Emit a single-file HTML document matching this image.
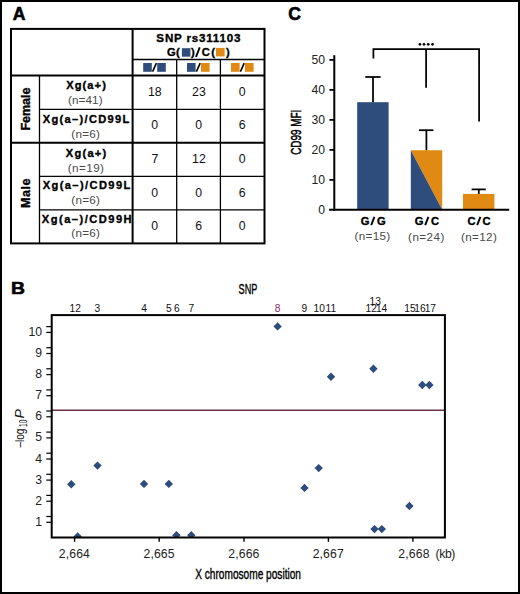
<!DOCTYPE html>
<html><head><meta charset="utf-8">
<style>
html,body{margin:0;padding:0;background:#fff;}
body{width:520px;height:594px;overflow:hidden;font-family:"Liberation Sans",sans-serif;}
svg{display:block;}
text{font-family:"Liberation Sans",sans-serif;}
.b{font-weight:bold;stroke:#000;stroke-width:0.35px;}
.pl{font-weight:bold;stroke:#000;stroke-width:0.6px;}
</style></head><body>
<svg width="520" height="594" viewBox="0 0 520 594">
<rect x="0" y="0" width="520" height="594" fill="#fff"/>
<!-- outer border -->
<rect x="1" y="1" width="518" height="592" fill="none" stroke="#000" stroke-width="2"/>

<!-- panel labels -->
<text x="12.8" y="19.7" class="pl" font-size="17.6">A</text>
<text x="288.2" y="20.2" class="pl" font-size="17.6">C</text>
<text x="11.1" y="293.7" class="pl" font-size="17.4" textLength="14" lengthAdjust="spacingAndGlyphs">B</text>

<!-- ===== TABLE A ===== -->
<g stroke="#000" fill="none">
  <rect x="11" y="28.9" width="253.5" height="214.5" stroke-width="2"/>
  <line x1="132.6" y1="28.9" x2="132.6" y2="243.4" stroke-width="2"/>
  <line x1="132.6" y1="59.5" x2="264.5" y2="59.5" stroke-width="1.3"/>
  <line x1="11" y1="75.6" x2="264.5" y2="75.6" stroke-width="2"/>
  <line x1="11" y1="142.7" x2="264.5" y2="142.7" stroke-width="2"/>
  <line x1="39.5" y1="75.6" x2="39.5" y2="243.4" stroke-width="1.3"/>
  <line x1="176.7" y1="59.5" x2="176.7" y2="243.4" stroke-width="1.3"/>
  <line x1="220.4" y1="59.5" x2="220.4" y2="243.4" stroke-width="1.3"/>
  <line x1="39.5" y1="109.3" x2="264.5" y2="109.3" stroke-width="1.3"/>
  <line x1="39.5" y1="176.3" x2="264.5" y2="176.3" stroke-width="1.3"/>
  <line x1="39.5" y1="209.9" x2="264.5" y2="209.9" stroke-width="1.3"/>
</g>

<!-- header -->
<text x="198.35" y="42" class="b" font-size="11.6" text-anchor="middle" textLength="84" lengthAdjust="spacing">SNP rs311103</text>
<text y="55.6" class="b" font-size="11.2" stroke="#000" stroke-width="0.25"><tspan x="167.1">G</tspan><tspan x="176.1">(</tspan><tspan x="191.1">)</tspan><tspan x="201.7">C</tspan><tspan x="211.2">(</tspan><tspan x="226">)</tspan></text>
<rect x="181.9" y="48.2" width="8.5" height="8.5" fill="#2e4c7c"/>
<line x1="196" y1="57" x2="199.7" y2="47.4" stroke="#000" stroke-width="1.9"/>
<rect x="216" y="47.9" width="8.6" height="8.5" fill="#e08a14"/>
<!-- squares row -->
<g>
  <rect x="143.2" y="63" width="8.6" height="8.8" fill="#2e4c7c"/>
  <rect x="157.2" y="63" width="8.6" height="8.8" fill="#2e4c7c"/>
  <line x1="152.6" y1="71.6" x2="156.4" y2="63.2" stroke="#000" stroke-width="1.6"/>
  <rect x="187" y="63" width="8.6" height="8.8" fill="#2e4c7c"/>
  <rect x="201" y="63" width="8.6" height="8.8" fill="#e08a14"/>
  <line x1="196.4" y1="71.6" x2="200.2" y2="63.2" stroke="#000" stroke-width="1.6"/>
  <rect x="231" y="63" width="8.6" height="8.8" fill="#e08a14"/>
  <rect x="245" y="63" width="8.6" height="8.8" fill="#e08a14"/>
  <line x1="240.4" y1="71.6" x2="244.2" y2="63.2" stroke="#000" stroke-width="1.6"/>
</g>

<!-- side labels -->
<text transform="translate(30,109.1) rotate(-90)" class="b" font-size="12.6" text-anchor="middle" textLength="43" lengthAdjust="spacing">Female</text>
<text transform="translate(30,193.2) rotate(-90)" class="b" font-size="12.6" text-anchor="middle" textLength="29.4" lengthAdjust="spacing">Male</text>

<!-- row labels -->
<g class="b" font-size="11.1" text-anchor="middle">
  <text x="86" y="89.1" textLength="39.7" lengthAdjust="spacing">Xg(a+)</text>
  <text x="86" y="122.9" textLength="86.7" lengthAdjust="spacing">Xg(a–)/CD99L</text>
  <text x="86" y="157" textLength="40.6" lengthAdjust="spacing">Xg(a+)</text>
  <text x="86.5" y="189.1" textLength="87.6" lengthAdjust="spacing">Xg(a–)/CD99L</text>
  <text x="86.7" y="222.6" textLength="89.8" lengthAdjust="spacing">Xg(a–)/CD99H</text>
</g>
<g font-size="11.7" text-anchor="middle" fill="#4a4a4a">
  <text x="85.3" y="103.9" textLength="34.6" lengthAdjust="spacing">(n=41)</text>
  <text x="85.6" y="137.6" textLength="28.6" lengthAdjust="spacing">(n=6)</text>
  <text x="85.85" y="171.6" textLength="36.3" lengthAdjust="spacing">(n=19)</text>
  <text x="85.6" y="203.8" textLength="28.6" lengthAdjust="spacing">(n=6)</text>
  <text x="85.6" y="236.9" textLength="28.6" lengthAdjust="spacing">(n=6)</text>
</g>

<!-- data -->
<g font-size="12.3" text-anchor="middle" fill="#111" transform="translate(0,-0.5)">
  <text x="154.8" y="96.5">18</text>
  <text x="198.9" y="96.5">23</text>
  <text x="242.2" y="96.5">0</text>
  <text x="154.6" y="129.8">0</text>
  <text x="198.6" y="129.8">0</text>
  <text x="242.2" y="129.8">6</text>
  <text x="154.8" y="163.7">7</text>
  <text x="198.9" y="163.7">12</text>
  <text x="242.2" y="163.7">0</text>
  <text x="154.6" y="197.3">0</text>
  <text x="198.6" y="197.3">0</text>
  <text x="242.2" y="197.3">6</text>
  <text x="154.6" y="230.9">0</text>
  <text x="198.6" y="230.9">6</text>
  <text x="242.2" y="230.9">0</text>
</g>

<!-- ===== CHART C ===== -->
<g>
  <!-- bars -->
  <rect x="357.2" y="102.2" width="31.4" height="107.6" fill="#2e4c7c"/>
  <polygon points="410.8,150.2 442.2,150.2 442.2,209.8" fill="#e08a14"/>
  <polygon points="410.8,150.2 442.2,209.8 410.8,209.8" fill="#2e4c7c"/>
  <rect x="463" y="193.9" width="31.4" height="15.9" fill="#e08a14"/>
</g>
<g stroke="#000" stroke-width="1.75" fill="none">
  <!-- error bars -->
  <line x1="373" y1="77" x2="373" y2="102.2"/>
  <line x1="365.3" y1="77" x2="380.6" y2="77"/>
  <line x1="426.4" y1="130.2" x2="426.4" y2="150.2"/>
  <line x1="419" y1="130.2" x2="433.4" y2="130.2"/>
  <line x1="478.8" y1="189.4" x2="478.8" y2="193.9"/>
  <line x1="471.6" y1="189.4" x2="485.8" y2="189.4"/>
  <!-- bracket -->
  <polyline points="373.4,58.6 373.4,49.2 479.1,49.2 479.1,121.6"/>
  <line x1="426.1" y1="49.2" x2="426.1" y2="87.8"/>
  <!-- axes -->
  <line x1="334.3" y1="55.2" x2="334.3" y2="210.6" stroke-width="2"/>
  <line x1="329.1" y1="209.8" x2="509.2" y2="209.8" stroke-width="2"/>
  <line x1="329.4" y1="59.9" x2="334.3" y2="59.9"/>
  <line x1="329.4" y1="89.9" x2="334.3" y2="89.9"/>
  <line x1="329.4" y1="119.9" x2="334.3" y2="119.9"/>
  <line x1="329.4" y1="149.9" x2="334.3" y2="149.9"/>
  <line x1="329.4" y1="179.9" x2="334.3" y2="179.9"/>
</g>
<g fill="#000"><circle cx="419.9" cy="44.3" r="1.35"/><circle cx="424" cy="44.3" r="1.35"/><circle cx="428.2" cy="44.3" r="1.35"/><circle cx="432.5" cy="44.3" r="1.35"/></g>
<g font-size="12.2" text-anchor="end" fill="#222">
  <text x="325" y="63.9">50</text>
  <text x="325" y="93.9">40</text>
  <text x="325" y="123.9">30</text>
  <text x="325" y="153.9">20</text>
  <text x="325" y="183.9">10</text>
  <text x="325" y="213.6">0</text>
</g>
<text transform="translate(301,132.3) rotate(-90)" font-size="14" stroke="#000" stroke-width="0.5" text-anchor="middle" textLength="45" lengthAdjust="spacingAndGlyphs">CD99 MFI</text>
<g class="b" font-size="11.2">
  <text y="224.9"><tspan x="360.8">G</tspan><tspan x="377.1">G</tspan></text>
  <text y="224.9"><tspan x="414.8">G</tspan><tspan x="430.9">C</tspan></text>
  <text y="224.9"><tspan x="467.5">C</tspan><tspan x="482.4">C</tspan></text>
</g>
<g stroke="#000" stroke-width="1.9">
  <line x1="371.2" y1="225.2" x2="374.4" y2="216.9"/>
  <line x1="425.2" y1="225.2" x2="428.4" y2="216.9"/>
  <line x1="477.2" y1="225.2" x2="480.4" y2="216.9"/>
</g>
<g font-size="11.7" text-anchor="middle" fill="#4a4a4a">
  <text x="372.4" y="240.4" textLength="35.6" lengthAdjust="spacing">(n=15)</text>
  <text x="426.25" y="240.6" textLength="36.3" lengthAdjust="spacing">(n=24)</text>
  <text x="478.85" y="240.6" textLength="35.9" lengthAdjust="spacing">(n=12)</text>
</g>

<!-- ===== PLOT B ===== -->
<text x="248" y="293.7" font-size="14" text-anchor="middle" textLength="18.8" lengthAdjust="spacingAndGlyphs" stroke="#000" stroke-width="0.35">SNP</text>
<g font-size="10.2" text-anchor="middle" fill="#111">
  <text x="72.3" y="311.7">1</text>
  <text x="78" y="311.7">2</text>
  <text x="97.4" y="311.7">3</text>
  <text x="144.1" y="311.7">4</text>
  <text x="168.75" y="311.7">5</text>
  <text x="176.9" y="311.7">6</text>
  <text x="191.25" y="311.7">7</text>
  <text x="277.6" y="311.7" fill="#8c2c55">8</text>
  <text x="304.4" y="311.7">9</text>
  <text x="319.2" y="311.7">10</text>
  <text x="330.8" y="311.7">11</text>
  <text x="375.2" y="304.8">13</text>
  <text x="371.2" y="311.7">12</text>
  <text x="381.6" y="311.7">14</text>
  <text x="410" y="311.7">15</text>
  <text x="420" y="311.7">16</text>
  <text x="430.3" y="311.7">17</text>
</g>
<defs><clipPath id="pc"><rect x="51.7" y="315.1" width="393.2" height="222.4"/></clipPath></defs>
<!-- red threshold -->
<line x1="51.7" y1="410.3" x2="444.9" y2="410.3" stroke="#6e3049" stroke-width="1.4"/>
<!-- diamonds -->
<g fill="#2e4c7c" clip-path="url(#pc)">
  <path d="M71.3,480 l4.2,4.2 l-4.2,4.2 l-4.2,-4.2z"/>
  <path d="M77.7,532.3 l4.2,4.2 l-4.2,4.2 l-4.2,-4.2z"/>
  <path d="M97.5,461.4 l4.2,4.2 l-4.2,4.2 l-4.2,-4.2z"/>
  <path d="M144,479.7 l4.2,4.2 l-4.2,4.2 l-4.2,-4.2z"/>
  <path d="M168.8,479.7 l4.2,4.2 l-4.2,4.2 l-4.2,-4.2z"/>
  <path d="M176.4,531 l4.2,4.2 l-4.2,4.2 l-4.2,-4.2z"/>
  <path d="M191.3,531 l4.2,4.2 l-4.2,4.2 l-4.2,-4.2z"/>
  <path d="M277.6,322.2 l4.2,4.2 l-4.2,4.2 l-4.2,-4.2z"/>
  <path d="M304.5,483.7 l4.2,4.2 l-4.2,4.2 l-4.2,-4.2z"/>
  <path d="M318.7,463.9 l4.2,4.2 l-4.2,4.2 l-4.2,-4.2z"/>
  <path d="M331,372.6 l4.2,4.2 l-4.2,4.2 l-4.2,-4.2z"/>
  <path d="M373.4,364.5 l4.2,4.2 l-4.2,4.2 l-4.2,-4.2z"/>
  <path d="M374.5,524.9 l4.2,4.2 l-4.2,4.2 l-4.2,-4.2z"/>
  <path d="M381.8,524.9 l4.2,4.2 l-4.2,4.2 l-4.2,-4.2z"/>
  <path d="M409.4,501.8 l4.2,4.2 l-4.2,4.2 l-4.2,-4.2z"/>
  <path d="M422.3,380.8 l4.2,4.2 l-4.2,4.2 l-4.2,-4.2z"/>
  <path d="M429.4,380.8 l4.2,4.2 l-4.2,4.2 l-4.2,-4.2z"/>
</g>
<!-- box -->
<rect x="51.7" y="315.1" width="393.2" height="222.4" fill="none" stroke="#000" stroke-width="2"/>
<!-- y ticks -->
<g stroke="#000" stroke-width="1.2">
  <line x1="46.3" y1="326.6" x2="51.7" y2="326.6"/><line x1="46.3" y1="332.4" x2="51.7" y2="332.4"/>
  <line x1="46.3" y1="347.7" x2="51.7" y2="347.7"/><line x1="46.3" y1="353.5" x2="51.7" y2="353.5"/>
  <line x1="46.3" y1="368.8" x2="51.7" y2="368.8"/><line x1="46.3" y1="374.6" x2="51.7" y2="374.6"/>
  <line x1="46.3" y1="389.9" x2="51.7" y2="389.9"/><line x1="46.3" y1="395.7" x2="51.7" y2="395.7"/>
  <line x1="46.3" y1="411" x2="51.7" y2="411"/><line x1="46.3" y1="416.8" x2="51.7" y2="416.8"/>
  <line x1="46.3" y1="432.1" x2="51.7" y2="432.1"/><line x1="46.3" y1="437.9" x2="51.7" y2="437.9"/>
  <line x1="46.3" y1="453.2" x2="51.7" y2="453.2"/><line x1="46.3" y1="459" x2="51.7" y2="459"/>
  <line x1="46.3" y1="474.3" x2="51.7" y2="474.3"/><line x1="46.3" y1="480.1" x2="51.7" y2="480.1"/>
  <line x1="46.3" y1="495.4" x2="51.7" y2="495.4"/><line x1="46.3" y1="501.2" x2="51.7" y2="501.2"/>
  <line x1="46.3" y1="516.5" x2="51.7" y2="516.5"/><line x1="46.3" y1="522.3" x2="51.7" y2="522.3"/>
</g>
<g font-size="12.2" text-anchor="end" fill="#222">
  <text x="42" y="335.8">10</text>
  <text x="42" y="357">9</text>
  <text x="42" y="378.1">8</text>
  <text x="42" y="399.2">7</text>
  <text x="42" y="420.3">6</text>
  <text x="42" y="441.4">5</text>
  <text x="42" y="462.5">4</text>
  <text x="42" y="483.6">3</text>
  <text x="42" y="504.7">2</text>
  <text x="42" y="525.8">1</text>
</g>
<!-- x ticks -->
<g stroke="#000" stroke-width="1.4">
  <line x1="74.6" y1="537.5" x2="74.6" y2="541.8"/>
  <line x1="159.2" y1="537.5" x2="159.2" y2="541.8"/>
  <line x1="244" y1="537.5" x2="244" y2="541.8"/>
  <line x1="328.4" y1="537.5" x2="328.4" y2="541.8"/>
  <line x1="412.9" y1="537.5" x2="412.9" y2="541.8"/>
</g>
<g font-size="12.2" text-anchor="middle" fill="#222">
  <text x="74.3" y="557.7" textLength="31.1" lengthAdjust="spacing">2,664</text>
  <text x="159" y="557.7" textLength="31.1" lengthAdjust="spacing">2,665</text>
  <text x="243.8" y="557.7" textLength="31.1" lengthAdjust="spacing">2,666</text>
  <text x="328.2" y="557.7" textLength="31.1" lengthAdjust="spacing">2,667</text>
  <text x="413.85" y="557.7" textLength="31.3" lengthAdjust="spacing">2,668</text>
  <text x="445.4" y="557.7" textLength="20" lengthAdjust="spacing">(kb)</text>
</g>
<text x="248.1" y="578.6" font-size="15" text-anchor="middle" textLength="105.8" lengthAdjust="spacingAndGlyphs" stroke="#000" stroke-width="0.4">X chromosome position</text>
<!-- y label -->
<g transform="translate(23.6,447.6) rotate(-90)" fill="#111">
  <text x="0" y="0" font-size="13.2" textLength="19" lengthAdjust="spacingAndGlyphs">–log</text>
  <text x="20.6" y="3.3" font-size="10.6" textLength="7.4" lengthAdjust="spacingAndGlyphs">10</text>
  <text x="29.2" y="0" font-size="13.6" font-style="italic" textLength="9.4" lengthAdjust="spacingAndGlyphs">P</text>
</g>
</svg>
</body></html>
